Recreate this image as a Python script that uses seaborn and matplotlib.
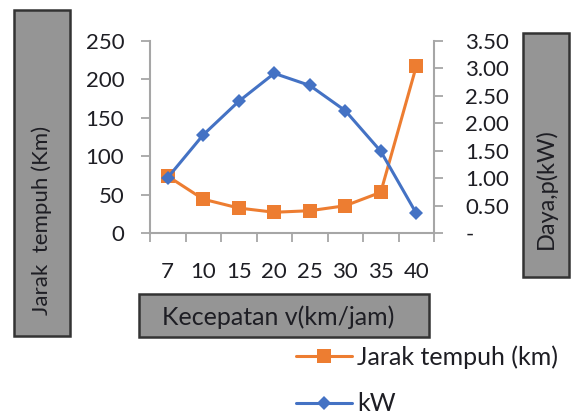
import matplotlib
matplotlib.use("Agg")
import matplotlib.pyplot as plt
import seaborn as sns
import pandas as pd
import numpy as np
from matplotlib.patches import Rectangle
from matplotlib.lines import Line2D

# Travel distance and power versus speed
speeds = ["7", "10", "15", "20", "25", "30", "35", "40"]
jarak_km = [74, 44, 32.5, 27, 29, 35.5, 53, 217]
daya_kw = [1.01, 1.79, 2.40, 2.91, 2.69, 2.23, 1.49, 0.36]

left_ticks = [0, 50, 100, 150, 200, 250]
right_ticks = [0, 0.5, 1.0, 1.5, 2.0, 2.5, 3.0, 3.5]
right_labels = ["-", "0.50", "1.00", "1.50", "2.00", "2.50", "3.00", "3.50"]

ORANGE = "#ED7D31"
BLUE = "#4472C4"
SPINE = "#a6a6a6"
TEXT = "#1e1e24"
BOX_FACE = "#959595"
BOX_EDGE = "#333333"

sns.set_theme(style="white")
plt.rcParams["font.family"] = ["Lato", "DejaVu Sans"]

W, H = 572, 420
fig = plt.figure(figsize=(W / 100, H / 100), dpi=100)


def fx(px):
    return px / W


def fy(py):
    return 1 - py / H


ax = fig.add_axes([fx(150), fy(233), fx(434) - fx(150), fy(41) - fy(233)])
ax2 = ax.twinx()

df = pd.DataFrame({"pos": np.arange(len(speeds)), "jarak": jarak_km, "daya": daya_kw})

sns.lineplot(data=df, x="pos", y="jarak", ax=ax, color=ORANGE, marker="s",
             markersize=9.5, markeredgewidth=0, linewidth=2.2, legend=False)
sns.lineplot(data=df, x="pos", y="daya", ax=ax2, color=BLUE, marker="D",
             markersize=7.5, markeredgewidth=0, linewidth=2.2, legend=False)

ax.set_xlim(-0.5, len(speeds) - 0.5)
ax.set_ylim(0, 250)
ax2.set_ylim(0, 3.5)

# category boundaries carry the tick marks, centers carry the labels
ax.set_xticks(np.arange(-0.5, len(speeds), 1.0))
ax.set_xticklabels([])
ax.set_xticks(np.arange(len(speeds)), minor=True)
ax.set_xticklabels(speeds, minor=True)
ax.set_yticks(left_ticks)
ax.set_yticklabels([str(t) for t in left_ticks])
ax2.set_yticks(right_ticks)
ax2.set_yticklabels(right_labels)
for lbl in ax2.get_yticklabels():
    lbl.set_horizontalalignment("left")

ax.set_xlabel("")
ax.set_ylabel("")
ax2.set_ylabel("")

ax.tick_params(axis="x", which="major", direction="out", length=6.5, width=1.3,
               color=SPINE, bottom=True)
ax.tick_params(axis="x", which="minor", length=0, pad=21, labelsize=16,
               labelcolor=TEXT, bottom=True)
ax.tick_params(axis="y", direction="out", length=6.5, width=1.3, color=SPINE,
               left=True, pad=12, labelsize=16, labelcolor=TEXT)
ax2.tick_params(axis="y", direction="out", length=6.5, width=1.3, color=SPINE,
                right=True, pad=16, labelsize=16, labelcolor=TEXT)

for a in (ax, ax2):
    a.grid(False)
    a.spines["top"].set_visible(False)
    for s in ("left", "right", "bottom"):
        a.spines[s].set_color(SPINE)
        a.spines[s].set_linewidth(1.5)
ax.spines["right"].set_visible(False)
ax2.spines["left"].set_visible(False)
ax2.spines["bottom"].set_visible(False)


def title_box(x0, y0, x1, y1):
    fig.patches.append(Rectangle((fx(x0), fy(y1)), fx(x1) - fx(x0), fy(y0) - fy(y1),
                                 transform=fig.transFigure, facecolor=BOX_FACE,
                                 edgecolor=BOX_EDGE, linewidth=1.8, zorder=0))


title_box(14, 10, 70, 336)
fig.text(fx(42), fy(220), "Jarak  tempuh (Km)", rotation=90, ha="center", va="center",
         fontsize=16, color=TEXT)

title_box(523, 33, 569, 277)
fig.text(fx(546), fy(189), "Daya,p(kW)", rotation=90, ha="center", va="center",
         fontsize=17, color=TEXT)

title_box(139, 294, 429, 337)
fig.text(fx(278), fy(317), "Kecepatan v(km/jam)", ha="center", va="center",
         fontsize=18, color=TEXT)

handles = [
    Line2D([], [], color=ORANGE, marker="s", markersize=9.5, markeredgewidth=0, linewidth=2.2),
    Line2D([], [], color=BLUE, marker="D", markersize=7.5, markeredgewidth=0, linewidth=2.2),
]
fig.legend(handles, ["Jarak tempuh (km)", "kW"], loc="upper left",
           bbox_to_anchor=(fx(296), fy(345)), frameon=False, fontsize=18,
           handlelength=2.25, handletextpad=0.2, labelspacing=0.95,
           borderpad=0, borderaxespad=0, labelcolor=TEXT)

fig.savefig("out.png", dpi=100)
